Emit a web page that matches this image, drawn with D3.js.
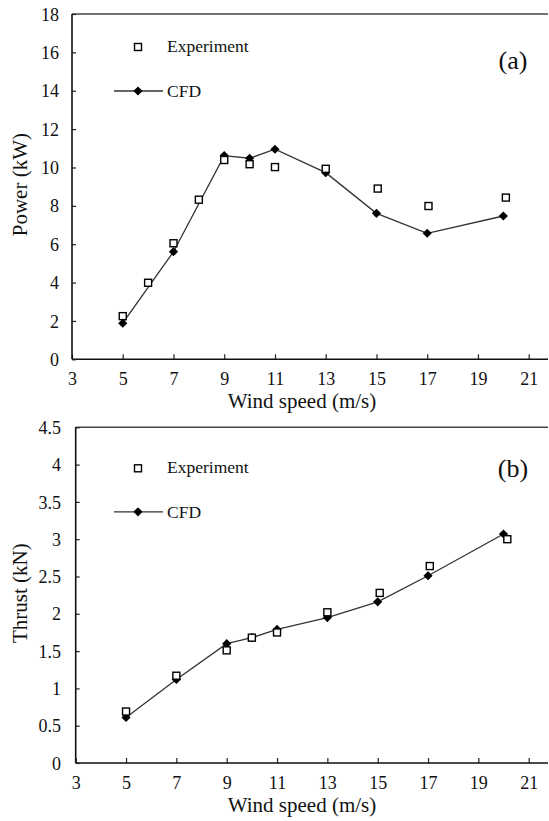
<!DOCTYPE html>
<html>
<head>
<meta charset="utf-8">
<script src="https://cdn.jsdelivr.net/npm/d3@7"></script>
<style>
  html, body { margin: 0; padding: 0; background: #fff; }
  svg { display: block; }
  text { font-family: "Liberation Serif", "Times New Roman", Times, "DejaVu Serif", serif; fill: #111; }
</style>
</head>
<body>
<svg id="chart" width="549" height="821"></svg>
<script>
// ---- Data ----
const xTicks = [3, 5, 7, 9, 11, 13, 15, 17, 19, 21];

// Panel (a): Power
const powerYTicks = [0, 2, 4, 6, 8, 10, 12, 14, 16, 18];
const windPowerExp = [5, 6, 7, 8, 9, 10, 11, 13, 15.05, 17.05, 20.1];
const powerExp = [2.25, 3.99, 6.05, 8.32, 10.39, 10.17, 10.02, 9.93, 8.9, 7.99, 8.43];
const windPowerCFD = [5, 7, 9, 10, 11, 13, 15, 17, 20];
const powerCFD = [1.88, 5.61, 10.62, 10.48, 10.95, 9.73, 7.61, 6.57, 7.47];

// Panel (b): Thrust
const thrustYTicks = [0, 0.5, 1, 1.5, 2, 2.5, 3, 3.5, 4, 4.5];
const windThrustExp = [5, 7, 9, 10, 11, 13, 15.08, 17.07, 20.15];
const thrustExp = [0.69, 1.17, 1.51, 1.68, 1.75, 2.02, 2.28, 2.64, 3.0];
const windThrustCFD = [5, 7, 9, 10, 11, 13, 15, 17, 20];
const thrustCFD = [0.61, 1.12, 1.60, 1.68, 1.79, 1.95, 2.16, 2.51, 3.07];

const legendLabels = ["Experiment", "CFD"];

const FONT = '"Liberation Serif", "Times New Roman", Times, "DejaVu Serif", serif';
const svg = d3.select("#chart");

// square diamond (rotated square), half-diagonal r
function diamondPath(r) {
  return `M0,${-r}L${r},0L0,${r}L${-r},0Z`;
}

function drawPanel(cfg) {
  const g = svg.append("g");
  const x = d3.scaleLinear().domain([3, 21]).range([cfg.left, cfg.x21]);
  const y = d3.scaleLinear().domain([cfg.yTicks[0], cfg.yTicks[cfg.yTicks.length - 1]]).range([cfg.bottom, cfg.top]);

  // top border line
  g.append("line")
    .attr("x1", cfg.left).attr("x2", 548)
    .attr("y1", cfg.top).attr("y2", cfg.top)
    .attr("stroke", "#444").attr("stroke-width", 1.5);

  // x axis
  const xAxis = g.append("g")
    .attr("transform", `translate(0,${cfg.bottom})`)
    .call(d3.axisBottom(x).tickValues(xTicks).tickSize(-5).tickSizeOuter(0).tickPadding(0).tickFormat(d3.format("d")));
  xAxis.attr("font-family", FONT);
  xAxis.select(".domain").remove();
  xAxis.selectAll(".tick line").attr("stroke", "#222").attr("stroke-width", 1.2);
  xAxis.selectAll(".tick text").attr("y", cfg.xTickBaseline - cfg.bottom).attr("dy", null)
    .style("font-size", "18px").style("font-family", FONT).attr("fill", "#111");
  g.append("line")
    .attr("x1", cfg.left).attr("x2", 548)
    .attr("y1", cfg.bottom).attr("y2", cfg.bottom)
    .attr("stroke", "#111").attr("stroke-width", 1.6);

  // y axis
  const yAxis = g.append("g")
    .attr("transform", `translate(${cfg.left},0)`)
    .call(d3.axisLeft(y).tickValues(cfg.yTicks).tickSize(-4).tickSizeOuter(0).tickPadding(0).tickFormat(d => String(d)));
  yAxis.attr("font-family", FONT);
  yAxis.select(".domain").remove();
  yAxis.selectAll(".tick line").attr("stroke", "#222").attr("stroke-width", 1.2);
  yAxis.selectAll(".tick text").attr("x", cfg.yLabelRight - cfg.left).attr("dy", "0.34em")
    .style("font-size", "18px").style("font-family", FONT).attr("fill", "#111");
  g.append("line")
    .attr("x1", cfg.left).attr("x2", cfg.left)
    .attr("y1", cfg.top).attr("y2", cfg.bottom)
    .attr("stroke", "#111").attr("stroke-width", 1.6);

  // axis titles
  g.append("text")
    .attr("x", 302).attr("y", cfg.xTitleBaseline)
    .attr("text-anchor", "middle").style("font-size", "21px")
    .text("Wind speed (m/s)");
  g.append("text")
    .attr("transform", `translate(${cfg.yTitleX},${(cfg.top + cfg.bottom) / 2 - 2}) rotate(-90)`)
    .attr("text-anchor", "middle").style("font-size", "21px")
    .text(cfg.yTitle);

  // panel label
  g.append("text")
    .attr("x", 513).attr("y", cfg.top + cfg.panelDy)
    .attr("text-anchor", "middle").style("font-size", "26px")
    .text(cfg.panel);

  // CFD line
  const cfdData = cfg.cfdX.map((d, i) => [d, cfg.cfdY[i]]);
  g.append("path")
    .datum(cfdData)
    .attr("fill", "none").attr("stroke", "#333").attr("stroke-width", 1.3)
    .attr("d", d3.line().x(d => x(d[0])).y(d => y(d[1])));

  g.selectAll(".cfd").data(cfdData).enter().append("path")
    .attr("transform", d => `translate(${x(d[0])},${y(d[1])})`)
    .attr("d", diamondPath(4.6))
    .attr("fill", "#000");

  // Experiment squares
  const expData = cfg.expX.map((d, i) => [d, cfg.expY[i]]);
  g.selectAll(".exp").data(expData).enter().append("rect")
    .attr("x", d => x(d[0]) - 3.5).attr("y", d => y(d[1]) - 3.5)
    .attr("width", 7).attr("height", 7)
    .attr("fill", "#fff").attr("stroke", "#000").attr("stroke-width", 1.4);

  // Legend
  const ly1 = cfg.top + cfg.legendDy1;
  const ly2 = cfg.top + cfg.legendDy2;
  g.append("rect")
    .attr("x", 134.5).attr("y", ly1 - 3.5).attr("width", 7).attr("height", 7)
    .attr("fill", "#fff").attr("stroke", "#000").attr("stroke-width", 1.4);
  g.append("text").attr("x", 167).attr("y", ly1 + 5).style("font-size", "17.5px").text(legendLabels[0]);
  g.append("line").attr("x1", 114).attr("x2", 163).attr("y1", ly2).attr("y2", ly2)
    .attr("stroke", "#333").attr("stroke-width", 1.3);
  g.append("path").attr("transform", `translate(138,${ly2})`)
    .attr("d", diamondPath(4.6)).attr("fill", "#000");
  g.append("text").attr("x", 167).attr("y", ly2 + 6).style("font-size", "17.5px").text(legendLabels[1]);
}

drawPanel({
  left: 72, x21: 528.7, top: 14, bottom: 359.3,
  yTicks: powerYTicks, yTitle: "Power (kW)", panel: "(a)",
  xTickBaseline: 385, xTitleBaseline: 408, yLabelRight: 59, yTitleX: 27,
  panelDy: 55, legendDy1: 33, legendDy2: 77,
  expX: windPowerExp, expY: powerExp, cfdX: windPowerCFD, cfdY: powerCFD
});

drawPanel({
  left: 75.7, x21: 528.7, top: 427.3, bottom: 763,
  yTicks: thrustYTicks, yTitle: "Thrust (kN)", panel: "(b)",
  xTickBaseline: 789, xTitleBaseline: 812, yLabelRight: 61, yTitleX: 27,
  panelDy: 50, legendDy1: 41, legendDy2: 84.5,
  expX: windThrustExp, expY: thrustExp, cfdX: windThrustCFD, cfdY: thrustCFD
});
</script>
</body>
</html>
